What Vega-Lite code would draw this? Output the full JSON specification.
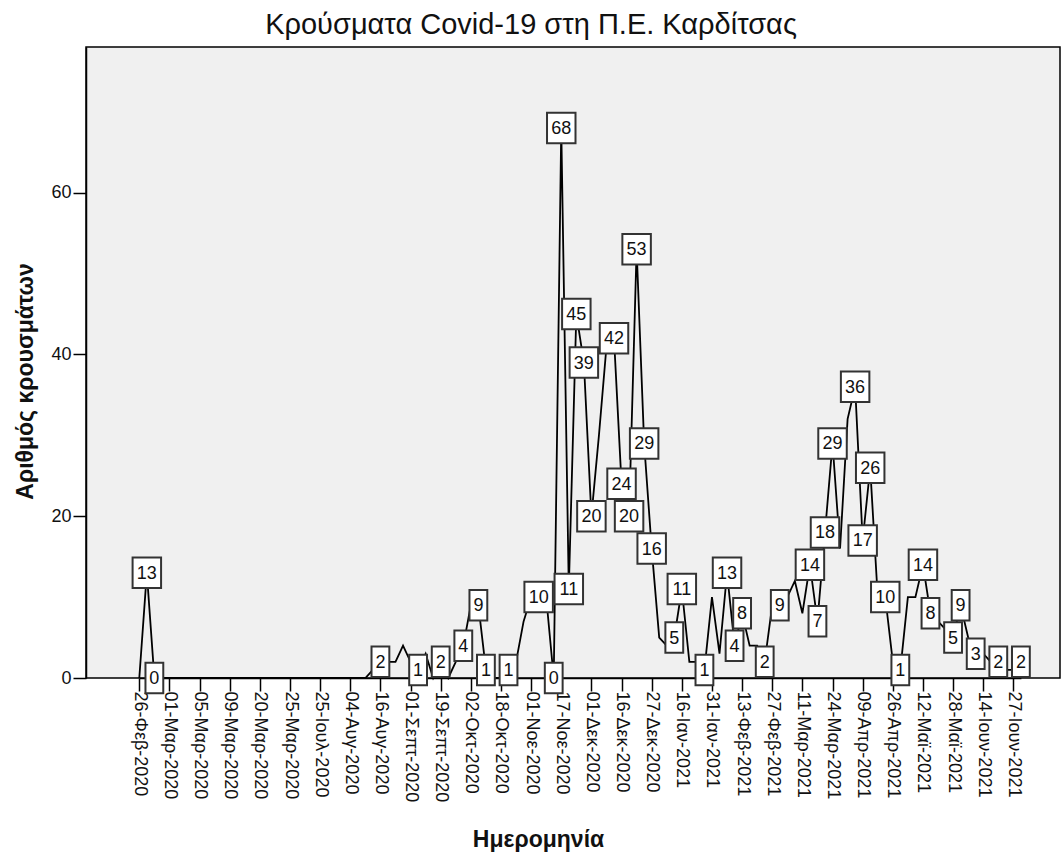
{
  "$schema": "https://vega.github.io/schema/vega-lite/v6.json",
  "width": 974,
  "height": 631,
  "autosize": {"type": "none"},
  "padding": {"left": 86, "top": 47, "right": 2, "bottom": 174},
  "background": "white",
  "title": {
    "text": "Κρούσματα Covid-19 στη Π.Ε. Καρδίτσας",
    "font": "Liberation Sans",
    "fontSize": 29,
    "fontWeight": "normal",
    "color": "#111",
    "anchor": "middle",
    "dx": -42,
    "offset": 7
  },
  "config": {
    "view": {"fill": "#f0f0f0", "stroke": "#000", "strokeWidth": 1.5},
    "axis": {
      "labelFont": "Liberation Sans",
      "titleFont": "Liberation Sans",
      "labelColor": "#111",
      "titleColor": "#111",
      "domainColor": "#000",
      "tickColor": "#000",
      "domainWidth": 1.5,
      "tickWidth": 1.5,
      "grid": false
    }
  },
  "data": {
    "values": [
      {"d": "26-Φεβ-2020", "v": 0, "lab": 0},
      {"d": "27-Φεβ-2020", "v": 13, "lab": 1},
      {"d": "28-Φεβ-2020", "v": 0, "lab": 1},
      {"d": "29-Φεβ-2020", "v": 0, "lab": 0},
      {"d": "01-Μαρ-2020", "v": 0, "lab": 0},
      {"d": "02-Μαρ-2020", "v": 0, "lab": 0},
      {"d": "03-Μαρ-2020", "v": 0, "lab": 0},
      {"d": "04-Μαρ-2020", "v": 0, "lab": 0},
      {"d": "05-Μαρ-2020", "v": 0, "lab": 0},
      {"d": "06-Μαρ-2020", "v": 0, "lab": 0},
      {"d": "07-Μαρ-2020", "v": 0, "lab": 0},
      {"d": "08-Μαρ-2020", "v": 0, "lab": 0},
      {"d": "09-Μαρ-2020", "v": 0, "lab": 0},
      {"d": "12-Μαρ-2020", "v": 0, "lab": 0},
      {"d": "15-Μαρ-2020", "v": 0, "lab": 0},
      {"d": "18-Μαρ-2020", "v": 0, "lab": 0},
      {"d": "20-Μαρ-2020", "v": 0, "lab": 0},
      {"d": "21-Μαρ-2020", "v": 0, "lab": 0},
      {"d": "22-Μαρ-2020", "v": 0, "lab": 0},
      {"d": "24-Μαρ-2020", "v": 0, "lab": 0},
      {"d": "25-Μαρ-2020", "v": 0, "lab": 0},
      {"d": "04-Απρ-2020", "v": 0, "lab": 0},
      {"d": "15-Μαϊ-2020", "v": 0, "lab": 0},
      {"d": "01-Ιουλ-2020", "v": 0, "lab": 0},
      {"d": "25-Ιουλ-2020", "v": 0, "lab": 0},
      {"d": "27-Ιουλ-2020", "v": 0, "lab": 0},
      {"d": "30-Ιουλ-2020", "v": 0, "lab": 0},
      {"d": "02-Αυγ-2020", "v": 0, "lab": 0},
      {"d": "04-Αυγ-2020", "v": 0, "lab": 0},
      {"d": "07-Αυγ-2020", "v": 0, "lab": 0},
      {"d": "10-Αυγ-2020", "v": 0, "lab": 0},
      {"d": "13-Αυγ-2020", "v": 1, "lab": 0},
      {"d": "16-Αυγ-2020", "v": 2, "lab": 1},
      {"d": "20-Αυγ-2020", "v": 2, "lab": 0},
      {"d": "24-Αυγ-2020", "v": 2, "lab": 0},
      {"d": "28-Αυγ-2020", "v": 4, "lab": 0},
      {"d": "01-Σεπτ-2020", "v": 2, "lab": 0},
      {"d": "06-Σεπτ-2020", "v": 1, "lab": 1},
      {"d": "10-Σεπτ-2020", "v": 3, "lab": 0},
      {"d": "15-Σεπτ-2020", "v": 0, "lab": 0},
      {"d": "19-Σεπτ-2020", "v": 2, "lab": 1},
      {"d": "22-Σεπτ-2020", "v": 0, "lab": 0},
      {"d": "26-Σεπτ-2020", "v": 2, "lab": 0},
      {"d": "29-Σεπτ-2020", "v": 4, "lab": 1},
      {"d": "02-Οκτ-2020", "v": 9, "lab": 0},
      {"d": "06-Οκτ-2020", "v": 9, "lab": 1},
      {"d": "10-Οκτ-2020", "v": 1, "lab": 1},
      {"d": "14-Οκτ-2020", "v": 0, "lab": 0},
      {"d": "18-Οκτ-2020", "v": 0, "lab": 0},
      {"d": "22-Οκτ-2020", "v": 1, "lab": 1},
      {"d": "25-Οκτ-2020", "v": 2, "lab": 0},
      {"d": "28-Οκτ-2020", "v": 7, "lab": 0},
      {"d": "01-Νοε-2020", "v": 10, "lab": 0},
      {"d": "05-Νοε-2020", "v": 10, "lab": 1},
      {"d": "09-Νοε-2020", "v": 10, "lab": 0},
      {"d": "13-Νοε-2020", "v": 0, "lab": 1},
      {"d": "17-Νοε-2020", "v": 68, "lab": 1},
      {"d": "21-Νοε-2020", "v": 11, "lab": 1},
      {"d": "24-Νοε-2020", "v": 45, "lab": 1},
      {"d": "27-Νοε-2020", "v": 39, "lab": 1},
      {"d": "01-Δεκ-2020", "v": 20, "lab": 1},
      {"d": "05-Δεκ-2020", "v": 30, "lab": 0},
      {"d": "09-Δεκ-2020", "v": 41, "lab": 0},
      {"d": "12-Δεκ-2020", "v": 42, "lab": 1},
      {"d": "16-Δεκ-2020", "v": 24, "lab": 1},
      {"d": "19-Δεκ-2020", "v": 20, "lab": 1},
      {"d": "22-Δεκ-2020", "v": 53, "lab": 1},
      {"d": "24-Δεκ-2020", "v": 29, "lab": 1},
      {"d": "27-Δεκ-2020", "v": 16, "lab": 1},
      {"d": "02-Ιαν-2021", "v": 5, "lab": 0},
      {"d": "07-Ιαν-2021", "v": 4, "lab": 0},
      {"d": "11-Ιαν-2021", "v": 5, "lab": 1},
      {"d": "16-Ιαν-2021", "v": 11, "lab": 1},
      {"d": "20-Ιαν-2021", "v": 2, "lab": 0},
      {"d": "24-Ιαν-2021", "v": 2, "lab": 0},
      {"d": "27-Ιαν-2021", "v": 1, "lab": 1},
      {"d": "31-Ιαν-2021", "v": 10, "lab": 0},
      {"d": "04-Φεβ-2021", "v": 3, "lab": 0},
      {"d": "07-Φεβ-2021", "v": 13, "lab": 1},
      {"d": "10-Φεβ-2021", "v": 4, "lab": 1},
      {"d": "13-Φεβ-2021", "v": 8, "lab": 1},
      {"d": "17-Φεβ-2021", "v": 4, "lab": 0},
      {"d": "20-Φεβ-2021", "v": 4, "lab": 0},
      {"d": "24-Φεβ-2021", "v": 2, "lab": 1},
      {"d": "27-Φεβ-2021", "v": 9, "lab": 0},
      {"d": "02-Μαρ-2021", "v": 9, "lab": 1},
      {"d": "05-Μαρ-2021", "v": 10, "lab": 0},
      {"d": "08-Μαρ-2021", "v": 12, "lab": 0},
      {"d": "11-Μαρ-2021", "v": 8, "lab": 0},
      {"d": "14-Μαρ-2021", "v": 14, "lab": 1},
      {"d": "17-Μαρ-2021", "v": 7, "lab": 1},
      {"d": "20-Μαρ-2021", "v": 18, "lab": 1},
      {"d": "24-Μαρ-2021", "v": 29, "lab": 1},
      {"d": "28-Μαρ-2021", "v": 16, "lab": 0},
      {"d": "01-Απρ-2021", "v": 32, "lab": 0},
      {"d": "05-Απρ-2021", "v": 36, "lab": 1},
      {"d": "09-Απρ-2021", "v": 17, "lab": 1},
      {"d": "13-Απρ-2021", "v": 26, "lab": 1},
      {"d": "17-Απρ-2021", "v": 10, "lab": 0},
      {"d": "22-Απρ-2021", "v": 10, "lab": 1},
      {"d": "26-Απρ-2021", "v": 2, "lab": 0},
      {"d": "30-Απρ-2021", "v": 1, "lab": 1},
      {"d": "04-Μαϊ-2021", "v": 10, "lab": 0},
      {"d": "08-Μαϊ-2021", "v": 10, "lab": 0},
      {"d": "12-Μαϊ-2021", "v": 14, "lab": 1},
      {"d": "16-Μαϊ-2021", "v": 8, "lab": 1},
      {"d": "20-Μαϊ-2021", "v": 7, "lab": 0},
      {"d": "24-Μαϊ-2021", "v": 6, "lab": 0},
      {"d": "28-Μαϊ-2021", "v": 5, "lab": 1},
      {"d": "01-Ιουν-2021", "v": 9, "lab": 1},
      {"d": "05-Ιουν-2021", "v": 5, "lab": 0},
      {"d": "09-Ιουν-2021", "v": 3, "lab": 1},
      {"d": "14-Ιουν-2021", "v": 3, "lab": 0},
      {"d": "17-Ιουν-2021", "v": 2, "lab": 0},
      {"d": "20-Ιουν-2021", "v": 2, "lab": 1},
      {"d": "23-Ιουν-2021", "v": 1, "lab": 0},
      {"d": "27-Ιουν-2021", "v": 1, "lab": 0},
      {"d": "30-Ιουν-2021", "v": 2, "lab": 1}
    ]
  },
  "encoding": {
    "x": {
      "field": "d",
      "type": "ordinal",
      "sort": null,
      "scale": {"type": "point", "range": [53.3, 934.9], "padding": 0},
      "axis": {
        "title": "Ημερομηνία",
        "titleFontSize": 23,
        "titleFontWeight": "bold",
        "titleX": 452,
        "titleY": 168,
        "titleBaseline": "alphabetic",
        "titleAlign": "center",
        "labelAngle": 90,
        "labelFontSize": 18,
        "labelPadding": 0,
        "tickSize": 13,
        "labelOverlap": false,
        "values": ["26-Φεβ-2020", "01-Μαρ-2020", "05-Μαρ-2020", "09-Μαρ-2020", "20-Μαρ-2020", "25-Μαρ-2020", "25-Ιουλ-2020", "04-Αυγ-2020", "16-Αυγ-2020", "01-Σεπτ-2020", "19-Σεπτ-2020", "02-Οκτ-2020", "18-Οκτ-2020", "01-Νοε-2020", "17-Νοε-2020", "01-Δεκ-2020", "16-Δεκ-2020", "27-Δεκ-2020", "16-Ιαν-2021", "31-Ιαν-2021", "13-Φεβ-2021", "27-Φεβ-2021", "11-Μαρ-2021", "24-Μαρ-2021", "09-Απρ-2021", "26-Απρ-2021", "12-Μαϊ-2021", "28-Μαϊ-2021", "14-Ιουν-2021", "27-Ιουν-2021"]
      }
    },
    "y": {
      "field": "v",
      "type": "quantitative",
      "scale": {"domain": [0, 78], "nice": false, "zero": true},
      "axis": {
        "title": "Αριθμός κρουσμάτων",
        "titleFontSize": 23,
        "titleFontWeight": "bold",
        "titleX": -54,
        "titleY": 334,
        "titleAngle": -90,
        "titleAlign": "center",
        "titleBaseline": "alphabetic",
        "labelFontSize": 18,
        "labelPadding": 2,
        "tickSize": 13,
        "values": [0, 20, 40, 60]
      }
    }
  },
  "layer": [
    {
      "mark": {"type": "line", "color": "#000", "strokeWidth": 1.8, "strokeJoin": "miter"}
    },
    {
      "transform": [{"filter": "datum.lab == 1"}],
      "mark": {"type": "point", "filled": true, "fill": "#fff", "fillOpacity": 1, "stroke": "#333", "strokeWidth": 2, "opacity": 1, "size": 930},
      "encoding": {
        "shape": {
          "condition": {"test": "datum.v >= 10", "value": "M-0.934,-1H0.934V1H-0.934Z"},
          "value": "M-0.584,-1H0.584V1H-0.584Z"
        },
        "yOffset": {
          "condition": [
            {"test": "datum.v == 0", "value": -16.6},
            {"test": "datum.v == 1", "value": -8.5}
          ],
          "value": 0
        }
      }
    },
    {
      "transform": [{"filter": "datum.lab == 1"}],
      "mark": {"type": "text", "font": "Liberation Sans", "fontSize": 18, "color": "#111", "align": "center", "baseline": "middle", "dy": 1},
      "encoding": {
        "text": {"field": "v", "type": "quantitative"},
        "yOffset": {
          "condition": [
            {"test": "datum.v == 0", "value": -16.6},
            {"test": "datum.v == 1", "value": -8.5}
          ],
          "value": 0
        }
      }
    }
  ]
}
